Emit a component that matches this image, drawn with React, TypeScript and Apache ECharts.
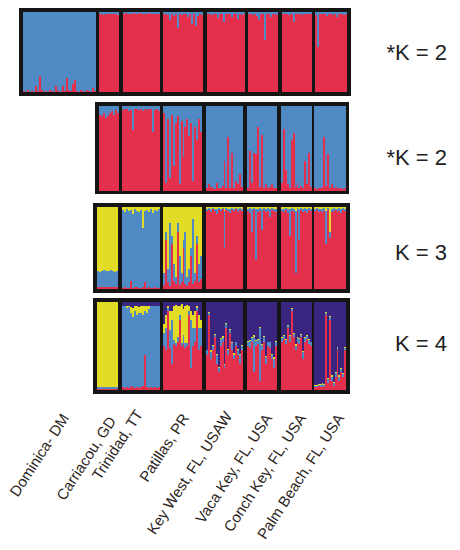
import React, { useEffect, useRef } from "react";
import * as echarts from "echarts";

// ---------- text ----------
const populationNames = [
  "Dominica- DM",
  "Carriacou, GD",
  "Trinidad, TT",
  "Patillas, PR",
  "Key West, FL, USAW",
  "Vaca Key, FL, USA",
  "Conch Key, FL, USA",
  "Palm Beach, FL, USA",
];
const panelLabels = ["*K = 2", "*K = 2", "K = 3", "K = 4"];

// ---------- colours ----------
const RED = "#E4304C";
const BLUE = "#4F8AC5";
const YELLOW = "#E2DC27";
const PURPLE = "#3A2580";

// ---------- Panel 1: K = 2, eight populations. Red membership (%) per individual; blue = rest ----------
const p1Dominica = [1, 0, 2, 0, 1, 0, 8, 1, 20, 2, 0, 1, 0, 2, 1, 0, 8, 1, 0, 8, 1, 17, 2, 1, 10, 15, 1, 0, 2, 1, 0, 2, 1, 0, 5, 1];
const p1Carriacou = [97, 98, 96, 98, 97, 98, 97, 98, 97, 96];
const p1Trinidad = [98, 99, 98, 98, 97, 99, 98, 98, 99, 98, 97, 98, 98, 99, 98, 97, 98, 98, 97];
const p1Patillas = [97, 98, 96, 90, 97, 95, 98, 80, 97, 96, 98, 97, 94, 98, 85, 97, 82, 95, 97, 96];
const p1KeyWest = [97, 98, 96, 97, 98, 92, 97, 98, 88, 97, 98, 97, 94, 98, 97, 91, 98, 96, 97];
const p1Vaca = [97, 98, 96, 98, 95, 90, 97, 98, 65, 97, 98, 94, 97, 98, 96];
const p1Conch = [98, 97, 98, 96, 98, 97, 88, 98, 97, 98, 96, 97, 98, 98, 97, 98];
const p1Palm = [96, 56, 98, 97, 97, 98, 95, 97, 98, 96, 97, 94, 98, 97, 98, 96, 97];

// ---------- Panel 2: K = 2, without Dominica. Red membership (%); blue = rest ----------
const p2Carriacou = [90, 88, 92, 86, 88, 92, 94, 90, 95, 92];
const p2Trinidad = [95, 97, 96, 94, 95, 72, 96, 97, 95, 96, 94, 97, 95, 96, 97, 70, 95, 96, 94];
const p2Patillas = [92, 10, 85, 15, 90, 30, 80, 88, 8, 82, 40, 75, 85, 65, 80, 12, 75, 60, 85, 70];
const p2KeyWest = [3, 8, 5, 3, 2, 10, 4, 3, 6, 35, 3, 63, 4, 45, 3, 12, 8, 20, 5];
const p2Vaca = [4, 47, 10, 45, 44, 75, 5, 66, 4, 8, 3, 5, 8, 3, 4];
const p2Conch = [10, 73, 25, 8, 4, 60, 68, 5, 10, 3, 6, 4, 35, 8, 45, 5];
const p2Palm = [3, 2, 4, 3, 5, 63, 6, 43, 4, 8, 3, 5, 2, 4, 3, 2, 3];

// ---------- Panel 3: K = 3 (red, blue, yellow, %) ----------
const p3CarriacouRed = [2, 2, 3, 2, 2, 2, 3, 2, 2, 2];
const p3CarriacouBlue = [20, 19, 19, 21, 20, 20, 20, 20, 19, 20];
const p3CarriacouYellow = [78, 79, 78, 77, 78, 78, 77, 78, 79, 78];
const p3TrinidadRed = [1, 2, 1, 1, 10, 1, 2, 2, 1, 1, 2, 9, 1, 2, 1, 1, 2, 1, 1];
const p3TrinidadBlue = [95, 92, 96, 94, 86, 91, 95, 93, 93, 95, 73, 86, 95, 92, 96, 92, 94, 94, 96];
const p3TrinidadYellow = [4, 6, 3, 5, 4, 8, 3, 5, 6, 4, 25, 5, 4, 6, 3, 7, 4, 5, 3];
const p3PatillasRed = [5, 60, 8, 4, 55, 10, 6, 70, 5, 8, 50, 6, 4, 8, 40, 6, 10, 55, 8, 12];
const p3PatillasBlue = [15, 10, 17, 76, 10, 20, 9, 10, 35, 12, 10, 64, 11, 17, 10, 79, 10, 10, 22, 28];
const p3PatillasYellow = [80, 30, 75, 20, 35, 70, 85, 20, 60, 80, 40, 30, 85, 75, 50, 15, 80, 35, 70, 60];
const p3KeyWestRed = [95, 96, 94, 97, 95, 92, 96, 95, 97, 50, 96, 95, 93, 96, 95, 97, 94, 96, 95];
const p3KeyWestBlue = [3, 3, 4, 2, 3, 5, 3, 3, 2, 45, 3, 3, 5, 3, 3, 2, 4, 3, 3];
const p3KeyWestYellow = [2, 1, 2, 1, 2, 3, 1, 2, 1, 5, 1, 2, 2, 1, 2, 1, 2, 1, 2];
const p3VacaRed = [95, 93, 70, 96, 35, 94, 95, 72, 96, 94, 95, 88, 96, 95, 94];
const p3VacaBlue = [3, 6, 27, 3, 63, 4, 4, 26, 3, 4, 4, 9, 3, 3, 4];
const p3VacaYellow = [2, 1, 3, 1, 2, 2, 1, 2, 1, 2, 1, 3, 1, 2, 2];
const p3ConchRed = [95, 94, 96, 93, 65, 95, 94, 20, 95, 60, 96, 94, 95, 93, 96, 95];
const p3ConchBlue = [3, 4, 3, 5, 32, 4, 4, 75, 4, 37, 3, 4, 4, 5, 3, 3];
const p3ConchYellow = [2, 2, 1, 2, 3, 1, 2, 5, 1, 3, 1, 2, 1, 2, 1, 2];
const p3PalmRed = [95, 96, 94, 95, 93, 95, 55, 96, 62, 94, 95, 96, 94, 95, 93, 96, 95];
const p3PalmBlue = [3, 3, 4, 3, 4, 4, 40, 3, 8, 4, 4, 2, 4, 4, 4, 3, 3];
const p3PalmYellow = [2, 1, 2, 2, 3, 1, 5, 1, 30, 2, 1, 2, 2, 1, 3, 1, 2];

// ---------- Panel 4: K = 4 (red, blue, yellow, purple, %) ----------
const p4CarriacouRed = [1, 1, 1, 1, 1, 1, 1, 1, 1, 1];
const p4CarriacouBlue = [2, 2, 2, 2, 2, 2, 2, 2, 2, 2];
const p4CarriacouYellow = [97, 97, 97, 97, 97, 97, 97, 97, 97, 97];
const p4CarriacouPurple = [0, 0, 0, 0, 0, 0, 0, 0, 0, 0];
const p4TrinidadRed = [3, 2, 3, 2, 4, 3, 2, 3, 2, 3, 5, 40, 3, 2, 3, 2, 3, 2, 3];
const p4TrinidadBlue = [93, 93, 90, 92, 84, 80, 88, 82, 86, 85, 80, 50, 84, 90, 92, 93, 92, 94, 93];
const p4TrinidadYellow = [0, 0, 2, 1, 6, 10, 5, 10, 6, 8, 10, 5, 8, 4, 1, 1, 1, 0, 0];
const p4TrinidadPurple = [4, 5, 5, 5, 6, 7, 5, 5, 6, 4, 5, 5, 5, 4, 4, 4, 4, 4, 4];
const p4PatillasRed = [50, 45, 90, 48, 30, 52, 50, 55, 80, 50, 52, 48, 50, 85, 25, 50, 55, 90, 45, 50];
const p4PatillasBlue = [15, 25, 3, 20, 50, 5, 3, 5, 5, 3, 10, 5, 3, 5, 55, 20, 15, 3, 25, 20];
const p4PatillasYellow = [10, 15, 2, 22, 10, 38, 44, 35, 10, 45, 30, 42, 44, 5, 10, 15, 20, 2, 15, 10];
const p4PatillasPurple = [25, 15, 5, 10, 10, 5, 3, 5, 5, 2, 8, 5, 3, 5, 10, 15, 10, 5, 15, 20];
const p4KeyWestRed = [40, 85, 35, 45, 60, 30, 20, 50, 55, 25, 70, 40, 65, 45, 35, 50, 40, 30, 45];
const p4KeyWestBlue = [5, 3, 8, 5, 3, 10, 5, 8, 4, 3, 5, 6, 3, 8, 5, 4, 6, 10, 5];
const p4KeyWestYellow = [1, 1, 2, 1, 1, 1, 1, 1, 2, 1, 1, 1, 1, 1, 2, 1, 1, 1, 1];
const p4KeyWestPurple = [54, 11, 55, 49, 36, 59, 74, 41, 39, 71, 24, 53, 31, 46, 58, 45, 53, 59, 49];
const p4VacaRed = [50, 48, 55, 20, 50, 52, 10, 45, 55, 30, 50, 48, 35, 25, 50];
const p4VacaBlue = [5, 8, 4, 40, 6, 5, 60, 6, 5, 8, 4, 6, 5, 10, 5];
const p4VacaYellow = [1, 1, 1, 2, 1, 1, 2, 1, 1, 1, 1, 1, 1, 2, 1];
const p4VacaPurple = [44, 43, 40, 38, 43, 42, 28, 48, 39, 61, 45, 45, 59, 63, 44];
const p4ConchRed = [55, 58, 52, 70, 55, 90, 60, 45, 55, 52, 60, 35, 55, 58, 52, 50];
const p4ConchBlue = [4, 3, 5, 3, 6, 2, 4, 5, 4, 6, 3, 8, 4, 3, 5, 4];
const p4ConchYellow = [1, 1, 1, 1, 1, 1, 1, 2, 1, 1, 1, 1, 1, 1, 1, 1];
const p4ConchPurple = [40, 38, 42, 26, 38, 7, 35, 48, 40, 41, 36, 56, 40, 38, 42, 45];
const p4PalmRed = [3, 3, 4, 3, 5, 3, 85, 8, 80, 10, 5, 15, 45, 10, 20, 15, 45];
const p4PalmBlue = [2, 2, 2, 3, 2, 3, 3, 4, 3, 5, 3, 4, 3, 5, 4, 3, 3];
const p4PalmYellow = [1, 1, 1, 1, 1, 1, 1, 2, 1, 2, 1, 2, 1, 2, 1, 1, 1];
const p4PalmPurple = [94, 94, 93, 93, 92, 93, 11, 86, 16, 83, 91, 79, 51, 83, 75, 81, 51];

// ---------- assemble (bottom-to-top stacking order) ----------
type Cluster = { color: string; values: number[] };
const k2 = (red: number[]): Cluster[] => [
  { color: RED, values: red },
  { color: BLUE, values: red.map((r) => 100 - r) },
];
const k3 = (r: number[], b: number[], y: number[]): Cluster[] => [
  { color: RED, values: r },
  { color: BLUE, values: b },
  { color: YELLOW, values: y },
];
const k4 = (r: number[], b: number[], y: number[], p: number[]): Cluster[] => [
  { color: RED, values: r },
  { color: BLUE, values: b },
  { color: YELLOW, values: y },
  { color: PURPLE, values: p },
];

const panels: Cluster[][][] = [
  [k2(p1Dominica), k2(p1Carriacou), k2(p1Trinidad), k2(p1Patillas), k2(p1KeyWest), k2(p1Vaca), k2(p1Conch), k2(p1Palm)],
  [k2(p2Carriacou), k2(p2Trinidad), k2(p2Patillas), k2(p2KeyWest), k2(p2Vaca), k2(p2Conch), k2(p2Palm)],
  [
    k3(p3CarriacouRed, p3CarriacouBlue, p3CarriacouYellow),
    k3(p3TrinidadRed, p3TrinidadBlue, p3TrinidadYellow),
    k3(p3PatillasRed, p3PatillasBlue, p3PatillasYellow),
    k3(p3KeyWestRed, p3KeyWestBlue, p3KeyWestYellow),
    k3(p3VacaRed, p3VacaBlue, p3VacaYellow),
    k3(p3ConchRed, p3ConchBlue, p3ConchYellow),
    k3(p3PalmRed, p3PalmBlue, p3PalmYellow),
  ],
  [
    k4(p4CarriacouRed, p4CarriacouBlue, p4CarriacouYellow, p4CarriacouPurple),
    k4(p4TrinidadRed, p4TrinidadBlue, p4TrinidadYellow, p4TrinidadPurple),
    k4(p4PatillasRed, p4PatillasBlue, p4PatillasYellow, p4PatillasPurple),
    k4(p4KeyWestRed, p4KeyWestBlue, p4KeyWestYellow, p4KeyWestPurple),
    k4(p4VacaRed, p4VacaBlue, p4VacaYellow, p4VacaPurple),
    k4(p4ConchRed, p4ConchBlue, p4ConchYellow, p4ConchPurple),
    k4(p4PalmRed, p4PalmBlue, p4PalmYellow, p4PalmPurple),
  ],
];

// ---------- layout (px) ----------
const colsLower = [
  [99, 119],
  [122, 160],
  [163, 202],
  [206, 243],
  [247, 277],
  [281, 312],
  [314, 346],
];
const layout = [
  {
    frame: [19, 8, 351, 96],
    inner: [12, 92],
    cols: [
      [23, 96],
      [99, 119],
      [123, 160],
      [163, 203],
      [207, 245],
      [248, 278],
      [282, 312],
      [315, 347],
    ],
    labelY: 52,
  },
  { frame: [95, 102, 349, 194], inner: [106, 191], cols: colsLower, labelY: 157 },
  { frame: [93, 203, 350, 293], inner: [207, 289], cols: [[97, 118], ...colsLower.slice(1)], labelY: 252 },
  { frame: [93, 298, 350, 394], inner: [302, 390], cols: [[97, 118], ...colsLower.slice(1)], labelY: 343 },
];
const nameAnchors = [
  [65, 415],
  [112, 418],
  [139, 411],
  [185, 415],
  [228, 413],
  [268, 415],
  [302, 415],
  [340, 415],
];

const FONT = '"Liberation Sans", Arial, Helvetica, sans-serif';

function buildOption() {
  const grid: any[] = [];
  const xAxis: any[] = [];
  const yAxis: any[] = [];
  const series: any[] = [];
  const graphic: any[] = [];

  panels.forEach((pops, pi) => {
    const L = layout[pi];
    const [fx0, fy0, fx1, fy1] = L.frame;
    graphic.push({
      type: "rect",
      z: 0,
      shape: { x: fx0, y: fy0, width: fx1 - fx0, height: fy1 - fy0 },
      style: { fill: "#151515" },
      silent: true,
    });
    pops.forEach((clusters, j) => {
      const [cx0, cx1] = L.cols[j];
      const gi = grid.length;
      grid.push({ left: cx0, top: L.inner[0], width: cx1 - cx0, height: L.inner[1] - L.inner[0] });
      const n = clusters[0].values.length;
      const totals = Array.from({ length: n }, (_, i) => clusters.reduce((s, c) => s + c.values[i], 0) || 1);
      xAxis.push({
        type: "category",
        gridIndex: gi,
        data: Array.from({ length: n }, (_, i) => String(i + 1)),
        show: false,
        boundaryGap: true,
      });
      yAxis.push({ type: "value", gridIndex: gi, min: 0, max: 1, show: false });
      clusters.forEach((c) => {
        series.push({
          type: "bar",
          xAxisIndex: gi,
          yAxisIndex: gi,
          stack: "s" + gi,
          barCategoryGap: "0%",
          barWidth: "100%",
          silent: true,
          data: c.values.map((v, i) => v / totals[i]),
          itemStyle: { color: c.color, borderWidth: 0 },
        });
      });
    });
    graphic.push({
      type: "text",
      z: 10,
      x: 447,
      y: L.labelY,
      style: {
        text: panelLabels[pi],
        fontSize: 22,
        fontFamily: FONT,
        fill: "#222",
        align: "right",
        verticalAlign: "middle",
      },
    });
  });

  populationNames.forEach((name, i) => {
    graphic.push({
      type: "text",
      z: 10,
      x: nameAnchors[i][0],
      y: nameAnchors[i][1],
      rotation: (57 * Math.PI) / 180,
      style: {
        text: name,
        fontSize: 15,
        fontFamily: FONT,
        fill: "#2a2320",
        align: "right",
        verticalAlign: "middle",
      },
    });
  });

  return {
    animation: false,
    backgroundColor: "#ffffff",
    grid,
    xAxis,
    yAxis,
    series,
    graphic,
  };
}

export default function App() {
  const ref = useRef<HTMLDivElement>(null);
  useEffect(() => {
    if (!ref.current) return;
    const chart = echarts.init(ref.current, undefined, { renderer: "svg" });
    chart.setOption(buildOption() as any);
    return () => chart.dispose();
  }, []);
  return (
    <>
      <style>{`.structure-chart path { shape-rendering: crispEdges; }`}</style>
      <div
        ref={ref}
        className="structure-chart"
        style={{ position: "fixed", left: 0, top: 0, width: 460, height: 550, background: "#fff" }}
      />
    </>
  );
}
